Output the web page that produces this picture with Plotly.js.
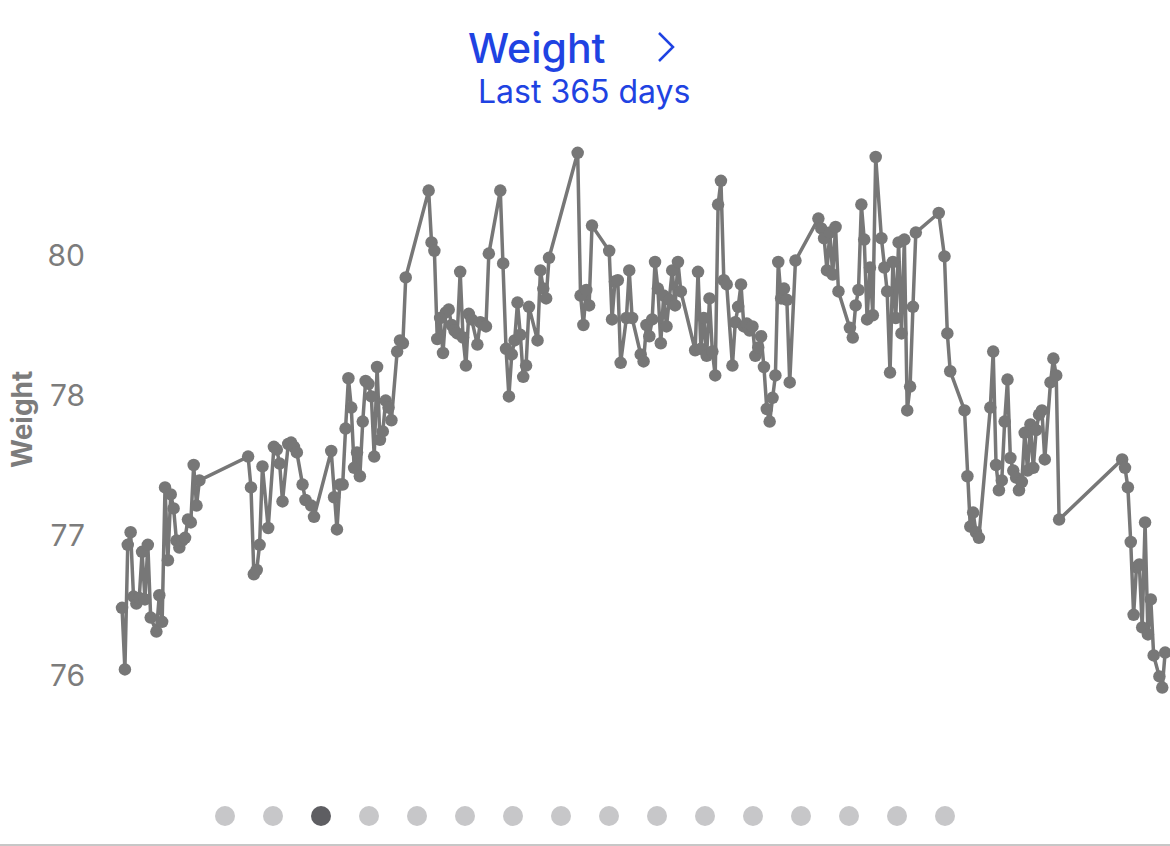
<!DOCTYPE html>
<html><head><meta charset="utf-8">
<script src="https://cdn.plot.ly/plotly-3.0.1.min.js"></script>
<style>html,body{margin:0;padding:0;background:#fff}#chart{width:1170px;height:846px}</style>
</head><body><div id="chart"></div>
<script>
// Day index within the last 365 days
const days = [0,1,2,3,4,5,6,7,8,9,10,12,13,14,15,16,17,18,19,20,21,22,23,24,25,26,27,
44,45,46,47,48,49,51,53,54,55,56,58,59,60,61,63,64,66,67,
73,74,75,76,77,78,79,80,81,82,83,84,85,86,87,88,89,90,91,92,93,94,96,97,98,99,
107,108,109,110,111,112,113,114,115,116,117,118,119,120,121,122,124,125,126,127,128,
132,133,134,135,136,137,138,139,140,141,142,145,146,147,148,149,
159,160,161,162,163,164,170,171,172,173,174,176,177,178,181,182,183,184,185,186,187,188,189,190,191,192,193,194,195,
200,201,202,203,204,205,206,207,208,209,210,211,213,214,215,216,217,218,219,220,221,222,223,224,225,226,227,228,229,230,231,232,233,235,
243,244,245,246,247,248,249,250,254,255,256,257,258,259,260,261,262,263,265,266,267,268,269,270,271,272,273,274,275,276,277,
285,287,288,289,294,295,296,297,298,299,303,304,305,306,307,308,309,310,311,312,313,314,315,316,317,318,319,320,321,322,324,325,326,327,
349,350,351,352,353,354,355,356,357,358,359,360,362,363,364];
// Weight readings (in the chart's own axis units)
const weights = [76.48,76.04,76.93,77.02,76.56,76.51,76.55,76.88,76.54,76.93,76.41,76.31,76.57,76.38,77.34,76.82,77.29,77.19,76.96,76.91,76.96,76.98,77.11,77.09,77.50,77.21,77.39,
77.56,77.34,76.72,76.75,76.93,77.49,77.05,77.63,77.61,77.51,77.24,77.65,77.66,77.63,77.59,77.36,77.25,77.21,77.13,
77.60,77.27,77.04,77.36,77.36,77.76,78.12,77.91,77.48,77.59,77.42,77.81,78.10,78.08,77.99,77.56,78.20,77.68,77.74,77.96,77.91,77.82,78.31,78.39,78.37,78.84,
79.46,79.09,79.03,78.40,78.55,78.30,78.59,78.61,78.50,78.46,78.44,78.88,78.41,78.21,78.58,78.54,78.36,78.52,78.51,78.49,79.01,
79.46,78.94,78.33,77.99,78.29,78.39,78.66,78.43,78.13,78.21,78.63,78.39,78.89,78.76,78.69,78.98,
79.73,78.71,78.50,78.75,78.64,79.21,79.03,78.54,78.81,78.82,78.23,78.55,78.89,78.55,78.29,78.24,78.50,78.42,78.54,78.95,78.76,78.37,78.71,78.49,78.68,78.89,78.64,78.95,78.74,
78.32,78.88,78.33,78.55,78.28,78.69,78.31,78.14,79.36,79.53,78.82,78.79,78.21,78.52,78.63,78.79,78.49,78.51,78.46,78.49,78.28,78.34,78.42,78.20,77.90,77.81,77.98,78.14,78.95,78.69,78.76,78.68,78.09,78.96,
79.26,79.19,79.12,78.89,79.16,78.86,79.20,78.74,78.48,78.41,78.64,78.75,79.36,79.11,78.54,78.91,78.57,79.70,79.12,78.91,78.74,78.16,78.95,78.55,79.09,78.44,79.11,77.89,78.06,78.63,79.16,
79.30,78.99,78.44,78.17,77.89,77.42,77.06,77.16,77.02,76.98,77.91,78.31,77.50,77.32,77.39,77.81,78.11,77.55,77.46,77.41,77.32,77.38,77.73,77.46,77.79,77.48,77.75,77.86,77.89,77.54,78.09,78.26,78.14,77.11,
77.54,77.48,77.34,76.95,76.43,76.77,76.79,76.34,77.09,76.29,76.54,76.14,75.99,75.91,76.16];
const tickVals = [76,77,78,79];
const tickText = ["76","77","78","80"];
const titleText = "Weight";
const subtitleText = "Last 365 days";
const pageCount = 16;
const activePage = 2;

const blue = "#1f43e2";
const shapes = [];
// page dots
for (let i = 0; i < pageCount; i++) {
  const px = 225 + i * 48;
  shapes.push({type:"circle", xref:"paper", yref:"paper", xsizemode:"pixel", ysizemode:"pixel",
    xanchor:(px-110)/1060, yanchor:(760-816)/630, x0:-10, x1:10, y0:-10, y1:10,
    fillcolor: i===activePage ? "#5e5e62" : "#c7c7c9", line:{width:0}});
}
// bottom separator
shapes.push({type:"line", xref:"paper", yref:"paper", x0:-110/1060, x1:1, y0:(760-845)/630, y1:(760-845)/630,
  line:{color:"#b5b5b5", width:1.5}});
// chevron
shapes.push({type:"path", xref:"paper", yref:"paper",
  path:`M ${(659-110)/1060} ${(760-33)/630} L ${(673-110)/1060} ${(760-47)/630} L ${(659-110)/1060} ${(760-61)/630}`,
  line:{color:blue, width:2.5}});

const data = [{
  x: days, y: weights, type:"scatter", mode:"lines+markers",
  line:{color:"#777777", width:3.5},
  marker:{color:"#777777", size:12.5},
  hoverinfo:"skip", cliponaxis:false
}];

const layout = {
  width:1170, height:846,
  margin:{l:110, r:0, t:130, b:86},
  paper_bgcolor:"#fff", plot_bgcolor:"#fff",
  font:{family:"Inter, 'Open Sans', sans-serif"},
  showlegend:false,
  xaxis:{range:[-4.2,365.7], showgrid:false, zeroline:false, showticklabels:false, showline:false, ticks:""},
  yaxis:{range:[75.393,79.893], tickvals:tickVals, ticktext:tickText, showgrid:false, zeroline:false, showline:false,
    ticks:"outside", ticklen:18, tickcolor:"rgba(0,0,0,0)", tickfont:{size:30, color:"#7c7c7c"}},
  shapes: shapes,
  annotations:[
    {text:titleText, xref:"paper", yref:"paper", x:(537-110)/1060, y:(760-48)/630, showarrow:false,
      xanchor:"center", yanchor:"middle", font:{size:41, color:blue, family:"Inter, sans-serif", weight:500}},
    {text:subtitleText, xref:"paper", yref:"paper", x:(584-110)/1060, y:(760-91)/630, showarrow:false,
      xanchor:"center", yanchor:"middle", font:{size:32, color:blue, family:"Inter, sans-serif"}},
    {text:"<b>Weight</b>", xref:"paper", yref:"paper", x:(22-110)/1060, y:(760-420)/630, showarrow:false,
      textangle:-90, xanchor:"center", yanchor:"middle", font:{size:28, color:"#7c7c7c"}}
  ]
};
Plotly.newPlot("chart", data, layout, {displayModeBar:false, staticPlot:true});
</script>
</body></html>
